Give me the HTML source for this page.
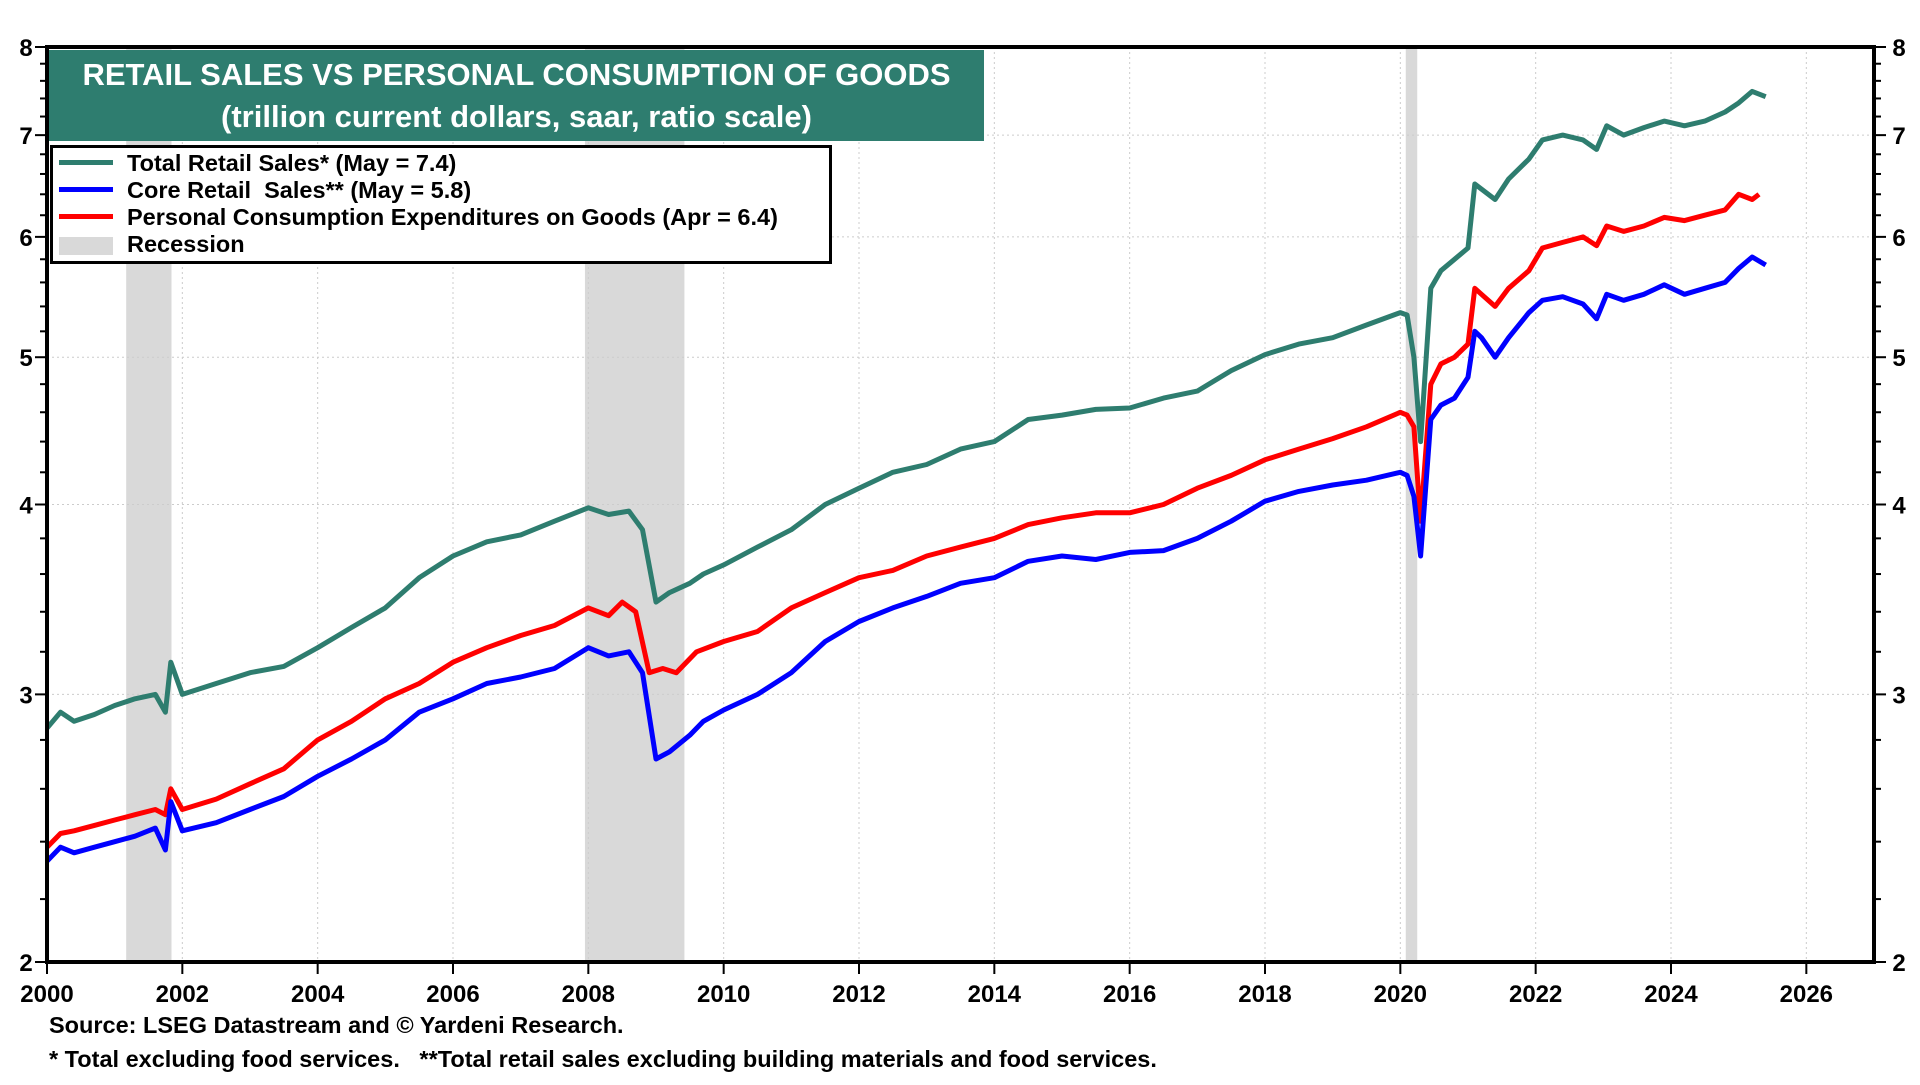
<!DOCTYPE html>
<html><head><meta charset="utf-8"><style>
body{margin:0;background:#fff;width:1920px;height:1080px;overflow:hidden;font-family:"Liberation Sans",sans-serif}
svg text{font-family:"Liberation Sans",sans-serif;font-weight:bold}
</style></head><body>
<svg id="c" width="1920" height="1080"></svg>
<script>
const recStart=[2001.17,2007.95,2020.08];
const recEnd=[2001.84,2009.42,2020.25];
const totalX=[2000,2000.2,2000.4,2000.7,2001,2001.3,2001.6,2001.75,2001.83,2002,2002.5,2003,2003.5,2004,2004.5,2005,2005.5,2006,2006.5,2007,2007.5,2008,2008.3,2008.6,2008.8,2009,2009.2,2009.5,2009.7,2010,2010.5,2011,2011.5,2012,2012.5,2013,2013.5,2014,2014.5,2015,2015.5,2016,2016.5,2017,2017.5,2018,2018.5,2019,2019.5,2020,2020.1,2020.2,2020.3,2020.45,2020.6,2020.8,2021,2021.1,2021.2,2021.4,2021.6,2021.9,2022.1,2022.4,2022.7,2022.9,2023.05,2023.3,2023.6,2023.9,2024.2,2024.5,2024.8,2025.0,2025.2,2025.4];
const totalY=[2.85,2.92,2.88,2.91,2.95,2.98,3.0,2.92,3.15,3.0,3.05,3.1,3.13,3.22,3.32,3.42,3.58,3.7,3.78,3.82,3.9,3.98,3.94,3.96,3.85,3.45,3.5,3.55,3.6,3.65,3.75,3.85,4.0,4.1,4.2,4.25,4.35,4.4,4.55,4.58,4.62,4.63,4.7,4.75,4.9,5.02,5.1,5.15,5.25,5.35,5.33,5.0,4.4,5.55,5.7,5.8,5.9,6.5,6.45,6.35,6.55,6.75,6.95,7.0,6.95,6.85,7.1,7.0,7.08,7.15,7.1,7.15,7.25,7.35,7.48,7.42];
const coreX=[2000,2000.2,2000.4,2000.7,2001,2001.3,2001.6,2001.75,2001.83,2002,2002.5,2003,2003.5,2004,2004.5,2005,2005.5,2006,2006.5,2007,2007.5,2008,2008.3,2008.6,2008.8,2009,2009.2,2009.5,2009.7,2010,2010.5,2011,2011.5,2012,2012.5,2013,2013.5,2014,2014.5,2015,2015.5,2016,2016.5,2017,2017.5,2018,2018.5,2019,2019.5,2020,2020.1,2020.2,2020.3,2020.45,2020.6,2020.8,2021,2021.1,2021.2,2021.4,2021.6,2021.9,2022.1,2022.4,2022.7,2022.9,2023.05,2023.3,2023.6,2023.9,2024.2,2024.5,2024.8,2025.0,2025.2,2025.4];
const coreY=[2.33,2.38,2.36,2.38,2.4,2.42,2.45,2.37,2.55,2.44,2.47,2.52,2.57,2.65,2.72,2.8,2.92,2.98,3.05,3.08,3.12,3.22,3.18,3.2,3.1,2.72,2.75,2.82,2.88,2.93,3.0,3.1,3.25,3.35,3.42,3.48,3.55,3.58,3.67,3.7,3.68,3.72,3.73,3.8,3.9,4.02,4.08,4.12,4.15,4.2,4.18,4.05,3.7,4.55,4.65,4.7,4.85,5.2,5.15,5.0,5.15,5.35,5.45,5.48,5.42,5.3,5.5,5.45,5.5,5.58,5.5,5.55,5.6,5.72,5.82,5.75];
const pceX=[2000,2000.2,2000.4,2000.7,2001,2001.3,2001.6,2001.75,2001.83,2002,2002.5,2003,2003.5,2004,2004.5,2005,2005.5,2006,2006.5,2007,2007.5,2008,2008.3,2008.5,2008.7,2008.9,2009.1,2009.3,2009.6,2010,2010.5,2011,2011.5,2012,2012.5,2013,2013.5,2014,2014.5,2015,2015.5,2016,2016.5,2017,2017.5,2018,2018.5,2019,2019.5,2020,2020.1,2020.2,2020.3,2020.45,2020.6,2020.8,2021,2021.1,2021.2,2021.4,2021.6,2021.9,2022.1,2022.4,2022.7,2022.9,2023.05,2023.3,2023.6,2023.9,2024.2,2024.5,2024.8,2025.0,2025.2,2025.3];
const pceY=[2.38,2.43,2.44,2.46,2.48,2.5,2.52,2.5,2.6,2.52,2.56,2.62,2.68,2.8,2.88,2.98,3.05,3.15,3.22,3.28,3.33,3.42,3.38,3.45,3.4,3.1,3.12,3.1,3.2,3.25,3.3,3.42,3.5,3.58,3.62,3.7,3.75,3.8,3.88,3.92,3.95,3.95,4.0,4.1,4.18,4.28,4.35,4.42,4.5,4.6,4.58,4.5,3.9,4.8,4.95,5.0,5.1,5.55,5.5,5.4,5.55,5.7,5.9,5.95,6.0,5.92,6.1,6.05,6.1,6.18,6.15,6.2,6.25,6.4,6.35,6.4];
const yTicks=[2,3,4,5,6,7,8];
const xTicks=[2000,2002,2004,2006,2008,2010,2012,2014,2016,2018,2020,2022,2024,2026];

const L=47,R=1874,T=47,B=962,X0=2000,X1=2027;
const xs=v=>L+(v-X0)/(X1-X0)*(R-L);
const ys=v=>T+Math.log(8/v)/Math.log(4)*(B-T);
const svg=document.getElementById('c');const NS='http://www.w3.org/2000/svg';
function mk(tag,at,parent){const e=document.createElementNS(NS,tag);for(const k in at)e.setAttribute(k,at[k]);(parent||svg).appendChild(e);return e;}
recStart.forEach((s,i)=>{const r=mk('rect',{x:xs(s),y:T,width:xs(recEnd[i])-xs(s),height:B-T,fill:'#d9d9d9'});

});
xTicks.forEach(t=>{const g=mk('line',{x1:xs(t),x2:xs(t),y1:T,y2:B,stroke:'#ccc','stroke-dasharray':'2,3'});


mk('line',{x1:xs(t),x2:xs(t),y1:B,y2:B+12,stroke:'#000','stroke-width':2});
const tx=mk('text',{x:xs(t),y:B+40,'text-anchor':'middle','font-size':24});tx.textContent=t;

});
for(let v=2;v<=8.001;v+=0.2){const y=ys(v);const maj=Math.abs(v-Math.round(v))<0.01;
mk('line',{x1:L-(maj?12:7),x2:L,y1:y,y2:y,stroke:'#000','stroke-width':2});
mk('line',{x1:R,x2:R+(maj?12:7),y1:y,y2:y,stroke:'#000','stroke-width':2});}
yTicks.forEach(t=>{const y=ys(t);
if(t>2&&t<8){const g=mk('line',{x1:L,x2:R,y1:y,y2:y,stroke:'#ccc','stroke-dasharray':'2,3'});

}
const a=mk('text',{x:26,y:y+9,'text-anchor':'middle','font-size':24});a.textContent=t;


const b=mk('text',{x:1899,y:y+9,'text-anchor':'middle','font-size':24});b.textContent=t;

});
function line(X,Y,col,name){const p=mk('polyline',{points:X.map((x,i)=>xs(x).toFixed(1)+','+ys(Y[i]).toFixed(1)).join(' '),fill:'none',stroke:col,'stroke-width':5,'stroke-linejoin':'round'});

}
line(totalX,totalY,'#2e7d6f','total-retail-sales-line');
line(pceX,pceY,'#ff0000','pce-goods-line');
line(coreX,coreY,'#0000ff','core-retail-sales-line');
const fr=mk('rect',{x:L,y:T,width:R-L,height:B-T,fill:'none',stroke:'#000','stroke-width':4});


</script>
<div style="position:absolute;left:49px;top:50px;width:935px;height:91px;background:#2e7d6f;color:#fff;text-align:center;font-weight:bold;font-size:31px;line-height:42px;padding-top:4px;box-sizing:border-box;white-space:nowrap">
<div>RETAIL SALES VS PERSONAL CONSUMPTION OF GOODS</div>
<div>(trillion current dollars, saar, ratio scale)</div></div>
<div style="position:absolute;left:50px;top:145px;width:782px;height:119px;border:3px solid #000;background:#fff;box-sizing:border-box;font-weight:bold;font-size:23.5px;line-height:27px;padding-top:2px;white-space:nowrap">
<div><span style="display:inline-block;width:54px;height:5px;background:#2e7d6f;margin:0 14px 5px 6px;vertical-align:middle"></span>Total Retail Sales* (May = 7.4)</div>
<div><span style="display:inline-block;width:54px;height:5px;background:#0000ff;margin:0 14px 5px 6px;vertical-align:middle"></span>Core Retail&nbsp; Sales** (May = 5.8)</div>
<div><span style="display:inline-block;width:54px;height:5px;background:#ff0000;margin:0 14px 5px 6px;vertical-align:middle"></span>Personal Consumption Expenditures on Goods (Apr = 6.4)</div>
<div><span style="display:inline-block;width:54px;height:18px;background:#d9d9d9;margin:0 14px 0 6px;vertical-align:middle"></span>Recession</div></div>
<div style="position:absolute;left:49px;top:1012px;font-weight:bold;font-size:23.5px;white-space:nowrap">Source: LSEG Datastream and © Yardeni Research.</div>
<div style="position:absolute;left:49px;top:1046px;font-weight:bold;font-size:23.5px;white-space:pre">* Total excluding food services.   **Total retail sales excluding building materials and food services.</div>
</body></html>
